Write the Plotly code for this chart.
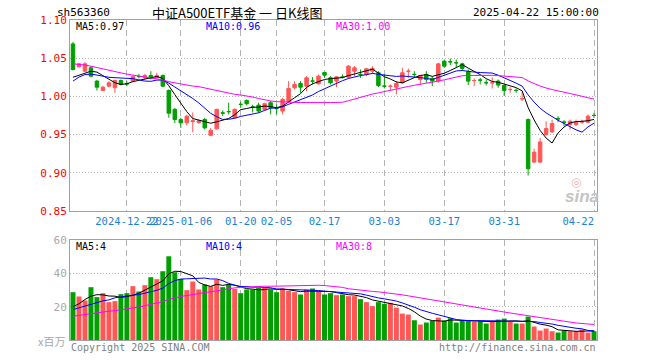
import plotly.graph_objects as go
import pandas as pd

# ---------------- data ----------------
dec_days = [10, 11, 12, 13, 16, 17, 18, 19, 20, 23, 24, 25, 26, 27, 30, 31]
jan_days = [2, 3, 6, 7, 8, 9, 10, 13, 14, 15, 16, 17, 20, 21, 22, 23, 24, 27]
feb_days = [5, 6, 7, 10, 11, 12, 13, 14, 17, 18, 19, 20, 21, 24, 25, 26, 27, 28]
mar_days = [3, 4, 5, 6, 7, 10, 11, 12, 13, 14, 17, 18, 19, 20, 21, 24, 25, 26, 27, 28, 31]
apr_days = [1, 2, 3, 7, 8, 9, 10, 11, 14, 15, 16, 17, 18, 21, 22]
dates = ([f"2024-12-{d:02d}" for d in dec_days] + [f"2025-01-{d:02d}" for d in jan_days]
         + [f"2025-02-{d:02d}" for d in feb_days] + [f"2025-03-{d:02d}" for d in mar_days]
         + [f"2025-04-{d:02d}" for d in apr_days])

opens = [
    1.0687, 1.0387, 1.0330, 1.0374, 1.0200, 1.0078, 1.0134, 1.0113, 1.0208, 1.0166,
    1.0200, 1.0262, 1.0243, 1.0274, 1.0243, 1.0274, 1.0078, 0.9830, 0.9697, 0.9654,
    0.9670, 0.9660, 0.9697, 0.9491, 0.9575, 0.9785, 0.9802, 0.9721, 0.9897, 0.9947,
    0.9862, 0.9886, 0.9830, 0.9917, 0.9842, 0.9808, 0.9930, 1.0113, 1.0169, 1.0134,
    1.0202, 1.0165, 1.0313, 1.0243, 1.0200, 1.0254, 1.0252, 1.0330, 1.0289, 1.0287,
    1.0330, 1.0309, 1.0136, 1.0132, 1.0121, 1.0178, 1.0328, 1.0289, 1.0221, 1.0287,
    1.0235, 1.0200, 1.0461, 1.0454, 1.0441, 1.0426, 1.0322, 1.0206, 1.0215, 1.0180,
    1.0176, 1.0200, 1.0143, 1.0089, 1.0080, 0.9967, 0.9697, 0.9140, 0.9140, 0.9500,
    0.9535, 0.9708, 0.9664, 0.9632, 0.9632, 0.9665, 0.9662, 0.9752]
closes = [
    1.0352, 1.0426, 1.0426, 1.0265, 1.0121, 1.0121, 1.0178, 1.0208, 1.0156, 1.0163,
    1.0261, 1.0259, 1.0274, 1.0235, 1.0274, 1.0134, 0.9780, 0.9697, 0.9654, 0.9740,
    0.9680, 0.9680, 0.9588, 0.9557, 0.9830, 0.9780, 0.9800, 0.9830, 0.9895, 0.9904,
    0.9860, 0.9808, 0.9904, 0.9852, 0.9840, 0.9960, 1.0104, 1.0156, 1.0121, 1.0243,
    1.0200, 1.0265, 1.0278, 1.0178, 1.0256, 1.0252, 1.0396, 1.0374, 1.0287, 1.0361,
    1.0365, 1.0143, 1.0134, 1.0134, 1.0169, 1.0309, 1.0330, 1.0287, 1.0274, 1.0221,
    1.0200, 1.0426, 1.0396, 1.0452, 1.0439, 1.0365, 1.0200, 1.0208, 1.0213, 1.0178,
    1.0178, 1.0148, 1.0078, 1.0091, 1.0078, 0.9969, 0.9053, 0.9270, 0.9404, 0.9579,
    0.9645, 0.9706, 0.9662, 0.9675, 0.9662, 0.9667, 0.9741, 0.9750]
highs = [
    1.0713, 1.0435, 1.0448, 1.0396, 1.0217, 1.0139, 1.0200, 1.0221, 1.0221, 1.0200,
    1.0274, 1.0295, 1.0295, 1.0330, 1.0309, 1.0287, 1.0091, 0.9850, 0.9720, 0.9760,
    0.9790, 0.9700, 0.9719, 0.9588, 0.9840, 0.9817, 0.9917, 0.9843, 0.9930, 0.9960,
    0.9890, 0.9917, 0.9917, 0.9939, 0.9895, 0.9982, 1.0200, 1.0200, 1.0200, 1.0265,
    1.0252, 1.0287, 1.0322, 1.0265, 1.0265, 1.0287, 1.0409, 1.0396, 1.0352, 1.0374,
    1.0396, 1.0330, 1.0287, 1.0156, 1.0200, 1.0374, 1.0365, 1.0330, 1.0278, 1.0330,
    1.0265, 1.0439, 1.0483, 1.0496, 1.0483, 1.0439, 1.0352, 1.0235, 1.0243, 1.0221,
    1.0252, 1.0221, 1.0156, 1.0121, 1.0104, 1.0060, 0.9710, 0.9316, 0.9456, 0.9675,
    0.9697, 0.9741, 0.9689, 0.9697, 0.9697, 0.9697, 0.9763, 0.9785]
lows = [
    1.0339, 1.0378, 1.0317, 1.0252, 1.0078, 1.0069, 1.0121, 1.0047, 1.0143, 1.0134,
    1.0187, 1.0235, 1.0221, 1.0221, 1.0235, 1.0121, 0.9720, 0.9650, 0.9588, 0.9620,
    0.9530, 0.9640, 0.9566, 0.9478, 0.9566, 0.9743, 0.9765, 0.9708, 0.9850, 0.9882,
    0.9790, 0.9786, 0.9808, 0.9765, 0.9765, 0.9765, 0.9917, 1.0091, 1.0047, 1.0069,
    1.0156, 1.0156, 1.0243, 1.0156, 1.0121, 1.0235, 1.0235, 1.0265, 1.0243, 1.0265,
    1.0295, 1.0121, 1.0104, 1.0078, 1.0026, 1.0169, 1.0243, 1.0243, 1.0156, 1.0178,
    1.0134, 1.0178, 1.0374, 1.0409, 1.0374, 1.0339, 1.0148, 1.0134, 1.0156, 1.0143,
    1.0104, 1.0113, 1.0004, 1.0047, 1.0047, 0.9939, 0.8965, 0.9127, 0.9127, 0.9487,
    0.9522, 0.9662, 0.9610, 0.9566, 0.9610, 0.9640, 0.9654, 0.9719]
volumes = [
    28.8, 26.2, 23.8, 31.8, 25.8, 28.2, 22.8, 23.4, 27.6, 28.2,
    32.4, 29.2, 33.0, 37.8, 36.6, 41.4, 50.4, 40.8, 36.8, 30.0,
    35.2, 30.4, 33.4, 32.4, 36.4, 31.8, 33.4, 30.8, 28.2, 30.4,
    30.4, 31.4, 31.4, 30.4, 28.8, 31.0, 29.6, 28.8, 27.4, 30.4,
    31.0, 29.0, 27.4, 28.2, 27.0, 27.4, 26.4, 26.4, 24.6, 22.8,
    20.4, 22.8, 21.8, 22.4, 19.5, 15.9, 15.3, 11.9, 9.3, 10.5,
    11.5, 13.5, 11.7, 13.1, 10.5, 11.7, 11.7, 11.1, 11.3, 9.9,
    11.5, 12.3, 12.9, 11.1, 9.9, 9.9, 14.1, 8.1, 5.7, 6.9,
    5.3, 4.5, 5.7, 5.3, 5.3, 6.3, 4.5, 5.3]

# closes / volumes of the 29 sessions before the window (estimated from the MA lines)
prior_closes = [1.060, 1.070, 1.075, 1.070, 1.065, 1.060, 1.070, 1.075, 1.065, 1.060,
                1.070, 1.065, 1.060, 1.055, 1.060, 1.050, 1.020, 1.015, 1.010, 1.003,
                0.990, 1.010, 1.020, 1.025, 1.030, 1.0286, 1.0264, 1.017, 1.018]
prior_volumes = [10, 11, 12, 13, 12, 11, 13, 14, 12, 13, 12, 11, 13, 12, 14, 13, 12, 12, 13, 14,
                 15, 17, 18, 16, 17, 17.2, 10.8, 21.8, 21.4]

tick_dates = ["2024-12-23", "2025-01-06", "2025-01-20", "2025-02-05", "2025-02-17",
              "2025-03-03", "2025-03-17", "2025-03-31", "2025-04-22"]
tick_labels = ["2024-12-22", "2025-01-06", "01-20", "02-05", "02-17", "03-03", "03-17", "03-31", "04-22"]
price_ticks = [0.85, 0.90, 0.95, 1.00, 1.05, 1.10]
vol_ticks = [20, 40, 60]
vol_ma_labels = ["MA5:4", "MA10:4", "MA30:8"]

# ---------------- derived ----------------
n_prior = len(prior_closes)
cs = pd.Series(prior_closes + closes)
vs = pd.Series(prior_volumes + volumes)
ma = {k: cs.rolling(k).mean().iloc[n_prior:].tolist() for k in (5, 10, 30)}
vma = {k: vs.rolling(k).mean().iloc[n_prior:].tolist() for k in (5, 10, 30)}

RED = "#ff5656"
GREEN = "#00a000"
MA_COL = {5: "#000000", 10: "#0000ff", 30: "#ff00ff"}
GRID = "#b4b4b4"
BORDER = "#a0a0a0"
MONO = "DejaVu Sans Mono"

vol_colors = [RED if c > o else GREEN for o, c in zip(opens, closes)]
# last label sits inside the frame (shifted left like the original)
shown_labels = tick_labels[:-1] + [tick_labels[-1] + "\u00a0" * 5]

fig = go.Figure()
fig.add_trace(go.Candlestick(
    x=dates, open=opens, high=highs, low=lows, close=closes,
    increasing=dict(line=dict(color=RED, width=1), fillcolor=RED),
    decreasing=dict(line=dict(color=GREEN, width=1), fillcolor=GREEN),
    whiskerwidth=0, xaxis="x", yaxis="y", showlegend=False))
for k in (5, 10, 30):
    fig.add_trace(go.Scatter(x=dates, y=ma[k], mode="lines", line=dict(color=MA_COL[k], width=1),
                             xaxis="x", yaxis="y", showlegend=False))
fig.add_trace(go.Bar(x=dates, y=volumes, marker=dict(color=vol_colors, line=dict(width=0)),
                     width=0.83, xaxis="x2", yaxis="y2", showlegend=False))
for k in (5, 10, 30):
    fig.add_trace(go.Scatter(x=dates, y=vma[k], mode="lines", line=dict(color=MA_COL[k], width=1),
                             xaxis="x2", yaxis="y2", showlegend=False))

W, H = 660, 360
L, R, T, B = 70, 63, 20, 20
pw, ph = W - L - R, H - T - B


def px(x):
    return (x - L) / pw


def py(y):
    return (H - B - y) / ph


xcommon = dict(type="category", range=[-0.5, len(dates) - 0.5], tickvals=tick_dates, ticktext=shown_labels,
               showgrid=True, gridcolor=GRID, griddash="6px,4px", gridwidth=1,
               showline=True, mirror=True, linecolor=BORDER, linewidth=1, ticks="",
               zeroline=False, fixedrange=True, automargin=False, tickangle=0)

fig.update_layout(
    width=W, height=H, margin=dict(l=L, r=R, t=T, b=B, autoexpand=False),
    paper_bgcolor="white", plot_bgcolor="white",
    boxgap=0.17, bargap=0.17,
    xaxis=dict(**xcommon, anchor="y", domain=[0, 1], rangeslider=dict(visible=False),
               tickfont=dict(family=MONO, size=10.5, color="#1c7fd2")),
    xaxis2=dict(**xcommon, anchor="y2", domain=[0, 1], matches="x", showticklabels=False),
    yaxis=dict(domain=[py(211), 1], range=[0.85, 1.10], tickvals=price_ticks,
               ticktext=[f"{v:.2f}" for v in price_ticks], automargin=False,
               tickfont=dict(family=MONO, size=11, color="#ff0000"),
               showgrid=True, gridcolor=GRID, griddash="1px,2px", gridwidth=1,
               showline=True, mirror=True, linecolor=BORDER, linewidth=1, ticks="", zeroline=False),
    yaxis2=dict(domain=[0, py(240)], range=[0, 60.2], tickvals=vol_ticks,
                ticktext=[str(v) for v in vol_ticks], automargin=False,
                tickfont=dict(family=MONO, size=11, color="#a8a8a8"),
                showgrid=True, gridcolor=GRID, griddash="1px,2px", gridwidth=1,
                showline=True, mirror=True, linecolor=BORDER, linewidth=1, ticks="", zeroline=False),
)

ann = []


def add(text, x, y, xanchor="left", color="#000000", size=10, family=MONO, **kw):
    ann.append(dict(text=text, x=px(x), y=py(y), xref="paper", yref="paper", xanchor=xanchor,
                    yanchor="middle", showarrow=False, font=dict(family=family, size=size, color=color), **kw))


add("sh563360", 55, 13, size=11)
add("中证A500ETF基金 一 日K线图", 237, 13, xanchor="center", size=13, family="Noto Sans CJK SC")
add(f"{dates[-1]} 15:00:00", 601, 13, xanchor="right", size=11)
add(f"MA5:{ma[5][-1]:.2f}", 74, 27, color=MA_COL[5])
add(f"MA10:{ma[10][-1]:.2f}", 204, 27, color=MA_COL[10])
add(f"MA30:{ma[30][-1]:.2f}", 334, 27, color=MA_COL[30])
add(vol_ma_labels[0], 74, 246, color=MA_COL[5])
add(vol_ma_labels[1], 204, 246, color=MA_COL[10])
add(vol_ma_labels[2], 334, 246, color=MA_COL[30])
add("x百万", 67, 341, xanchor="right", color="#a8a8a8", size=11, family="Noto Sans CJK SC")
add("Copyright 2025 SINA.COM", 69, 347, color="#808080")
add("http://finance.sina.com.cn", 598, 347, xanchor="right", color="#808080")
add("◎", 576, 182, xanchor="center", color="#f0b4b4", size=12, family="DejaVu Sans")
add("<b><i>sina</i></b>", 582, 196, xanchor="center", color="#c4c4c4", size=17, family="Liberation Sans")
fig.update_layout(annotations=ann)

fig.write_html("out.html", config={"displayModeBar": False, "staticPlot": True},
               post_script="document.body.style.margin='0';document.body.style.padding='0';")
